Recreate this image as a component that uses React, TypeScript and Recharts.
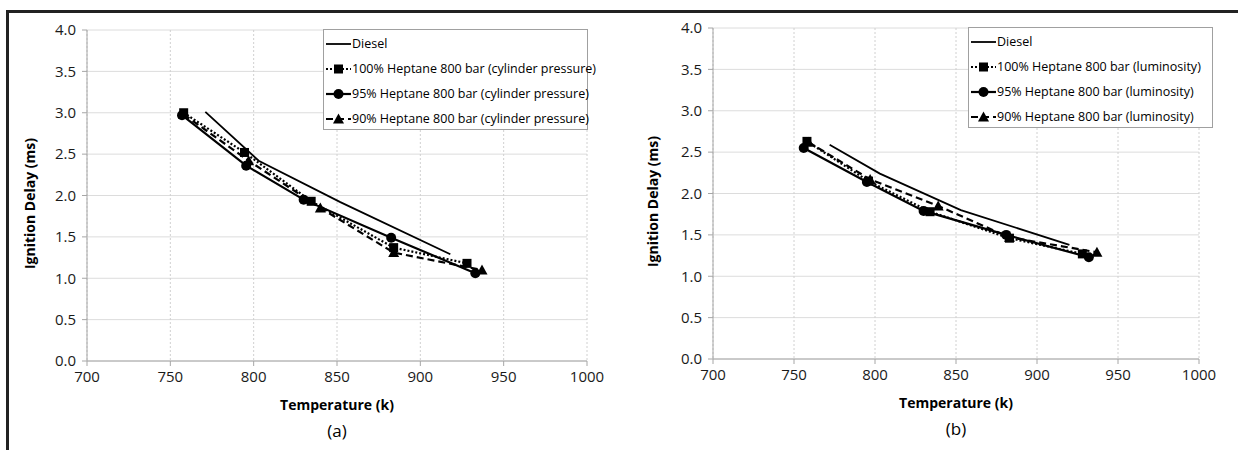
import React from "react";
import { LineChart, Line, XAxis, YAxis, CartesianGrid, Legend, Label } from "recharts";

// Temperature (K) vs ignition delay (ms)
const tempTicks = [700, 750, 800, 850, 900, 950, 1000];
const delayTicks = [0, 0.5, 1, 1.5, 2, 2.5, 3, 3.5, 4];

// (a) cylinder pressure
const dieselA = [
  { t: 771, ms: 3.01 },
  { t: 803, ms: 2.42 },
  { t: 852, ms: 1.92 },
  { t: 918, ms: 1.29 },
];
const hep100A = [
  { t: 758, ms: 3.0 },
  { t: 794.5, ms: 2.52 },
  { t: 834.5, ms: 1.93 },
  { t: 884, ms: 1.37 },
  { t: 928, ms: 1.18 },
];
const hep95A = [
  { t: 757, ms: 2.97 },
  { t: 795.5, ms: 2.36 },
  { t: 830, ms: 1.95 },
  { t: 882.5, ms: 1.49 },
  { t: 933, ms: 1.06 },
];
const hep90A = [
  { t: 758, ms: 2.98 },
  { t: 797, ms: 2.42 },
  { t: 840, ms: 1.85 },
  { t: 884, ms: 1.31 },
  { t: 937, ms: 1.1 },
];

// (b) luminosity
const dieselB = [
  { t: 772, ms: 2.59 },
  { t: 803, ms: 2.24 },
  { t: 853, ms: 1.8 },
  { t: 920, ms: 1.38 },
];
const hep100B = [
  { t: 758, ms: 2.63 },
  { t: 796, ms: 2.15 },
  { t: 834, ms: 1.78 },
  { t: 883, ms: 1.46 },
  { t: 928, ms: 1.27 },
];
const hep95B = [
  { t: 756, ms: 2.55 },
  { t: 795, ms: 2.14 },
  { t: 830, ms: 1.79 },
  { t: 881, ms: 1.5 },
  { t: 932, ms: 1.23 },
];
const hep90B = [
  { t: 759, ms: 2.62 },
  { t: 797, ms: 2.17 },
  { t: 839, ms: 1.85 },
  { t: 883, ms: 1.47 },
  { t: 937, ms: 1.29 },
];

const FONT = "'Open Sans', 'DejaVu Sans', sans-serif";

type Shape = "none" | "square" | "circle" | "triangle";
interface Series {
  name: string;
  data: { t: number; ms: number }[];
  dash?: string;
  width: number;
  shape: Shape;
}

function Marker({ shape, cx, cy }: { shape: Shape; cx: number; cy: number }) {
  if (shape === "square") return <rect x={cx - 4.5} y={cy - 4.5} width={9} height={9} fill="#000" />;
  if (shape === "circle") return <circle cx={cx} cy={cy} r={5} fill="#000" />;
  if (shape === "triangle")
    return <polygon points={`${cx},${cy - 5.5} ${cx + 5.5},${cy + 4.5} ${cx - 5.5},${cy + 4.5}`} fill="#000" />;
  return null;
}

const dotFor = (shape: Shape) =>
  shape === "none"
    ? false
    : (p: any) => <Marker key={`${shape}-${p.index}`} shape={shape} cx={p.cx} cy={p.cy} />;

function makeSeries(suffix: string, d: Series["data"][]): Series[] {
  return [
    { name: "Diesel", data: d[0], width: 1.8, shape: "none" },
    { name: `100% Heptane 800 bar (${suffix})`, data: d[1], dash: "2 2", width: 2.2, shape: "square" },
    { name: `95% Heptane 800 bar (${suffix})`, data: d[2], width: 2.2, shape: "circle" },
    { name: `90% Heptane 800 bar (${suffix})`, data: d[3], dash: "7 4", width: 2.2, shape: "triangle" },
  ];
}

function LegendBox({ series }: { series: Series[] }) {
  return (
    <div
      style={{
        border: "1px solid #a0a0a0",
        background: "#fff",
        padding: "1px 4px 1px 2px",
        fontFamily: FONT,
        fontSize: 12.5,
        fontWeight: 500,
        color: "#000",
        boxSizing: "border-box",
        height: "100%",
      }}
    >
      {series.map((s) => (
        <div key={s.name} style={{ display: "flex", alignItems: "center", height: 25 }}>
          <svg width={25} height={12} style={{ marginRight: 1, flexShrink: 0 }}>
            <line x1={0} y1={6} x2={25} y2={6} stroke="#000" strokeWidth={s.width} strokeDasharray={s.dash} />
            <Marker shape={s.shape} cx={12.5} cy={6} />
          </svg>
          <span style={{ whiteSpace: "nowrap" }}>{s.name}</span>
        </div>
      ))}
    </div>
  );
}

function YTitle({ viewBox, gap }: any) {
  const { x, y, width, height } = viewBox;
  const cx = x + width - gap;
  const cy = y + height / 2 + 8;
  return (
    <text
      x={cx}
      y={cy}
      transform={`rotate(-90, ${cx}, ${cy})`}
      textAnchor="middle"
      dominantBaseline="central"
      fontFamily={FONT}
      fontSize={14}
      fontWeight={700}
      fill="#000"
    >
      Ignition Delay (ms)
    </text>
  );
}

interface PanelProps {
  series: Series[];
  caption: string;
  width: number;
  margin: { top: number; right: number; bottom: number; left: number };
  legendPos: { left: number; top: number; width: number; height: number };
  yGap: number;
}

function Panel({ series, caption, width, margin, legendPos, yGap }: PanelProps) {
  const tick = { fontFamily: FONT, fontSize: 15, fill: "#1a1a1a" };
  return (
    <LineChart width={width} height={450} margin={margin}>
      <CartesianGrid vertical={false} stroke="#dcdcdc" strokeWidth={1} />
      <CartesianGrid horizontal={false} stroke="#d0d0d0" strokeDasharray="2 2" />
      <XAxis
        type="number"
        dataKey="t"
        domain={[700, 1000]}
        ticks={tempTicks}
        allowDuplicatedCategory={false}
        stroke="#a6a6a6"
        tickSize={5}
        tick={tick}
        tickMargin={5}
        height={30}
      >
        <Label
          value="Temperature (k)"
          position="bottom"
          offset={9}
          style={{ fontFamily: FONT, fontSize: 14, fontWeight: 700, fill: "#000" }}
        />
        <Label
          value={caption}
          position="bottom"
          offset={34}
          style={{ fontFamily: FONT, fontSize: 17, fill: "#000" }}
        />
      </XAxis>
      <YAxis
        type="number"
        domain={[0, 4]}
        ticks={delayTicks}
        tickFormatter={(v: number) => v.toFixed(1)}
        stroke="#a6a6a6"
        tickSize={5}
        tick={tick}
        tickMargin={6}
        width={40}
        label={<YTitle gap={yGap} />}
      />
      <Legend
        layout="vertical"
        align="center"
        verticalAlign="middle"
        wrapperStyle={{ position: "absolute", ...legendPos }}
        content={() => <LegendBox series={series} />}
      />
      {series.map((s) => (
        <Line
          key={s.name}
          data={s.data}
          dataKey="ms"
          name={s.name}
          type="linear"
          stroke="#000"
          strokeWidth={s.width}
          strokeDasharray={s.dash}
          dot={dotFor(s.shape) as any}
          activeDot={false}
          legendType="none"
          isAnimationActive={false}
        />
      ))}
    </LineChart>
  );
}

export default function App() {
  const seriesA = makeSeries("cylinder pressure", [dieselA, hep100A, hep95A, hep90A]);
  const seriesB = makeSeries("luminosity", [dieselB, hep100B, hep95B, hep90B]);
  return (
    <div style={{ position: "absolute", left: 0, top: 0, width: 1238, height: 450, background: "#fff", overflow: "hidden" }}>
      <div style={{ position: "absolute", left: 0, top: 0 }}>
        <Panel
          series={seriesA}
          caption="(a)"
          width={620}
          margin={{ top: 30, right: 33, bottom: 59, left: 47 }}
          legendPos={{ left: 323, top: 29, width: 265, height: 101 }}
          yGap={58}
        />
      </div>
      <div style={{ position: "absolute", left: 620, top: 0 }}>
        <Panel
          series={seriesB}
          caption="(b)"
          width={618}
          margin={{ top: 28, right: 39, bottom: 61, left: 53 }}
          legendPos={{ left: 348, top: 27, width: 245, height: 101 }}
          yGap={61}
        />
      </div>
      <div style={{ position: "absolute", left: 6, top: 10, width: 1232, height: 3, background: "#222" }} />
      <div style={{ position: "absolute", left: 6, top: 10, width: 3, height: 440, background: "#222" }} />
    </div>
  );
}
